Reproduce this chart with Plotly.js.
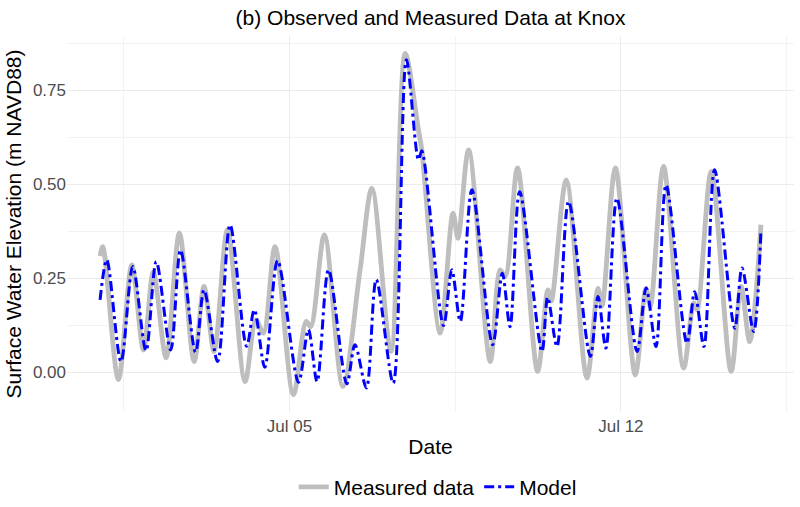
<!DOCTYPE html>
<html>
<head>
<meta charset="utf-8">
<script src="https://cdn.plot.ly/plotly-3.0.1.min.js"></script>
<style>html,body{margin:0;padding:0;background:#fff;}#chart{width:800px;height:507px;}</style>
</head>
<body>
<div id="chart"></div>
<script>
// Hours since 2021-07-01 00:00 and water elevation (m NAVD88)
const measuredHours = [0, 1.4, 9.3, 16.1, 22.0, 27.0, 33.5, 40.2, 47.7, 52.7, 57.8, 64.6, 73.5, 79.0, 82.8, 88.7, 98.0, 104.5, 106.8, 113.7, 123.1, 131.8, 137.8, 147.4, 154.7, 161.4, 163.1, 172.4, 178.9, 181.4, 186.8, 197.8, 202.8, 205.4, 211.6, 221.8, 227.0, 228.7, 236.3, 246.8, 252.4, 254.4, 261.2, 271.3, 276.7, 278.9, 285.6, 295.8, 300.9, 302.6, 309.8, 319.9, 324.9, 329.3, 335.0];
const measuredValues = [0.31, 0.335, -0.019, 0.286, 0.06, 0.267, 0.039, 0.371, 0.029, 0.229, 0.056, 0.38, -0.024, 0.14, 0.105, 0.335, -0.059, 0.136, 0.122, 0.366, -0.037, 0.273, 0.49, 0.056, 0.849, 0.645, 0.592, 0.105, 0.424, 0.357, 0.592, 0.029, 0.273, 0.255, 0.544, 0.003, 0.22, 0.19, 0.512, -0.015, 0.224, 0.176, 0.544, -0.006, 0.224, 0.176, 0.548, 0.012, 0.185, 0.167, 0.535, 0.003, 0.229, 0.082, 0.393];

const modelHours = [0, 3.4, 10.6, 16.6, 23.3, 28.5, 35.8, 40.8, 48.4, 52.7, 59.6, 65.9, 74.3, 78.2, 83.5, 90.0, 100.6, 105.6, 110.0, 115.8, 125.1, 129.2, 135.0, 140.0, 148.6, 155.3, 161.4, 163.1, 174.1, 178.3, 182.6, 188.5, 199.0, 203.9, 207.8, 212.7, 224.0, 226.9, 231.6, 237.5, 248.5, 252.4, 256.4, 262.0, 272.2, 276.8, 281.8, 286.9, 297.5, 301.4, 306.1, 311.5, 321.7, 325.4, 331.3, 335.0];
const modelValues = [0.193, 0.30, 0.029, 0.282, 0.058, 0.295, 0.06, 0.326, 0.054, 0.22, 0.029, 0.393, 0.07, 0.167, 0.014, 0.298, -0.026, 0.114, -0.024, 0.273, -0.03, 0.074, -0.041, 0.247, -0.028, 0.832, 0.566, 0.59, 0.125, 0.273, 0.136, 0.486, 0.074, 0.264, 0.122, 0.481, 0.056, 0.2, 0.069, 0.455, 0.043, 0.202, 0.065, 0.464, 0.056, 0.225, 0.069, 0.499, 0.078, 0.215, 0.069, 0.539, 0.118, 0.278, 0.109, 0.38];

const seriesNames = ["Measured data", "Model"];
const yTickVals = [0, 0.25, 0.5, 0.75];
const xTickVals = ["2021-07-05", "2021-07-12"];
const xTickText = ["Jul 05", "Jul 12"];

const base = Date.UTC(2021, 6, 1);
function toDate(h) {
  return new Date(base + h * 3600000).toISOString().slice(0, 19).replace('T', ' ');
}

const font = "Liberation Sans, Arial, sans-serif";

const traces = [
  {
    x: measuredHours.map(toDate), y: measuredValues, name: seriesNames[0],
    type: 'scatter', mode: 'lines',
    line: {color: '#BEBEBE', width: 4.8, shape: 'spline', smoothing: 0.9}
  },
  {
    x: modelHours.map(toDate), y: modelValues, name: seriesNames[1],
    type: 'scatter', mode: 'lines',
    line: {color: '#0000FF', width: 3, shape: 'spline', smoothing: 0.9, dash: '10px,4px,3px,4px'}
  }
];

const layout = {
  width: 800, height: 507,
  margin: {l: 67, r: 6, t: 36, b: 95, autoexpand: false},
  paper_bgcolor: '#fff', plot_bgcolor: '#fff',
  font: {family: font, color: '#000'},
  title: {text: '(b) Observed and Measured Data at Knox', font: {size: 21, color: '#000'},
          x: 0.5, xref: 'paper', y: 1 - 18 / 507, yref: 'container', yanchor: 'middle', automargin: false},
  xaxis: {
    type: 'date', automargin: false,
    range: [toDate(-16.75), toDate(335 + 16.75)],
    tickmode: 'array', tickvals: xTickVals, ticktext: xTickText,
    tickfont: {size: 17, color: '#4D4D4D'},
    showgrid: true, gridcolor: '#EBEBEB', gridwidth: 1.1,
    minor: {tick0: '2021-07-01 12:00', dtick: 7 * 86400000, showgrid: true, gridcolor: '#EBEBEB', gridwidth: 0.6},
    zeroline: false, showline: false, ticks: '', ticklabelstandoff: 2,
    title: {text: 'Date', font: {size: 21, color: '#000'}, standoff: 4}
  },
  yaxis: {
    range: [-0.105, 0.895], automargin: false,
    tickmode: 'array', tickvals: yTickVals, tickformat: '.2f',
    tickfont: {size: 17, color: '#4D4D4D'},
    showgrid: true, gridcolor: '#EBEBEB', gridwidth: 1.1,
    minor: {tick0: 0.125, dtick: 0.25, showgrid: true, gridcolor: '#EBEBEB', gridwidth: 0.6},
    zeroline: false, showline: false, ticks: '',
    title: {text: 'Surface Water Elevation (m NAVD88)', font: {size: 21, color: '#000'}, standoff: 5}
  },
  showlegend: true,
  legend: {orientation: 'h', x: 0.51, xanchor: 'center', y: -0.2, yanchor: 'middle',
           font: {size: 21, color: '#000'}, bgcolor: 'rgba(0,0,0,0)', itemwidth: 30}
};

Plotly.newPlot('chart', traces, layout, {displayModeBar: false, staticPlot: true});
</script>
</body>
</html>
